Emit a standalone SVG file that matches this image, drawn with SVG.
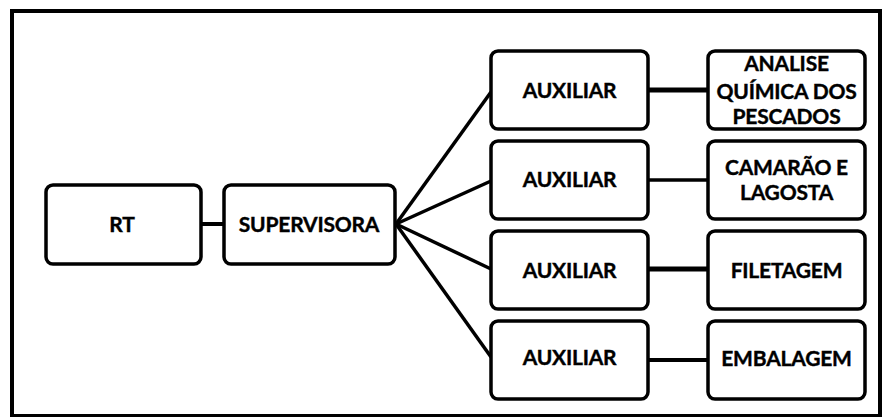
<svg xmlns="http://www.w3.org/2000/svg" width="883" height="417" viewBox="0 0 883 417">
<style>
.box{fill:#fff;stroke:#000;stroke-width:3.5}
.t{font-family:Lato,"Liberation Sans",sans-serif;font-weight:bold;font-size:21px;fill:#000;stroke:#000;stroke-width:0.4;text-anchor:middle;letter-spacing:-0.2px}
.c{stroke:#000;fill:none;stroke-linecap:butt}
</style>
<rect width="883" height="417" fill="#fff"/>
<rect x="12" y="11" width="868" height="405" fill="none" stroke="#000" stroke-width="4"/>
<g id="connectors">
<line class="c" x1="201" y1="224" x2="224" y2="224" stroke-width="4"/>
<line class="c" x1="396" y1="224" x2="491" y2="92" stroke-width="3.5"/>
<line class="c" x1="396" y1="224" x2="491" y2="181" stroke-width="3.5"/>
<line class="c" x1="396" y1="224" x2="491" y2="269" stroke-width="3.5"/>
<line class="c" x1="396" y1="224" x2="491" y2="357" stroke-width="3.5"/>
<line class="c" x1="648" y1="90" x2="708" y2="90" stroke-width="5"/>
<line class="c" x1="648" y1="180" x2="708" y2="180" stroke-width="3.5"/>
<line class="c" x1="648" y1="269" x2="708" y2="269" stroke-width="5"/>
<line class="c" x1="648" y1="360" x2="708" y2="360" stroke-width="4"/>
</g>
<g id="rt"><rect class="box" x="46" y="185" width="155" height="79" rx="7"/><text class="t" x="122" y="232">RT</text></g>
<g id="supervisora"><rect class="box" x="224" y="185" width="171" height="79" rx="7"/><text class="t" x="309" y="232">SUPERVISORA</text></g>
<g id="aux1"><rect class="box" x="491" y="51" width="157" height="78" rx="7"/><text class="t" x="569.5" y="98">AUXILIAR</text></g>
<g id="aux2"><rect class="box" x="491" y="141" width="157" height="78" rx="7"/><text class="t" x="569.5" y="187">AUXILIAR</text></g>
<g id="aux3"><rect class="box" x="491" y="231" width="157" height="78" rx="7"/><text class="t" x="569.5" y="278">AUXILIAR</text></g>
<g id="aux4"><rect class="box" x="491" y="321" width="157" height="78" rx="7"/><text class="t" x="569.5" y="365">AUXILIAR</text></g>
<g id="analise"><rect class="box" x="708" y="51" width="157" height="78" rx="7"/><text class="t" x="786.5" y="71">ANALISE</text><text class="t" x="786.5" y="99">QUÍMICA DOS</text><text class="t" x="786.5" y="124">PESCADOS</text></g>
<g id="camarao"><rect class="box" x="708" y="141" width="157" height="78" rx="7"/><text class="t" x="786.5" y="175">CAMARÃO E</text><text class="t" x="786.5" y="200">LAGOSTA</text></g>
<g id="filetagem"><rect class="box" x="708" y="231" width="157" height="78" rx="7"/><text class="t" x="786.5" y="278">FILETAGEM</text></g>
<g id="embalagem"><rect class="box" x="708" y="321" width="157" height="78" rx="7"/><text class="t" x="786.5" y="366">EMBALAGEM</text></g>
</svg>
